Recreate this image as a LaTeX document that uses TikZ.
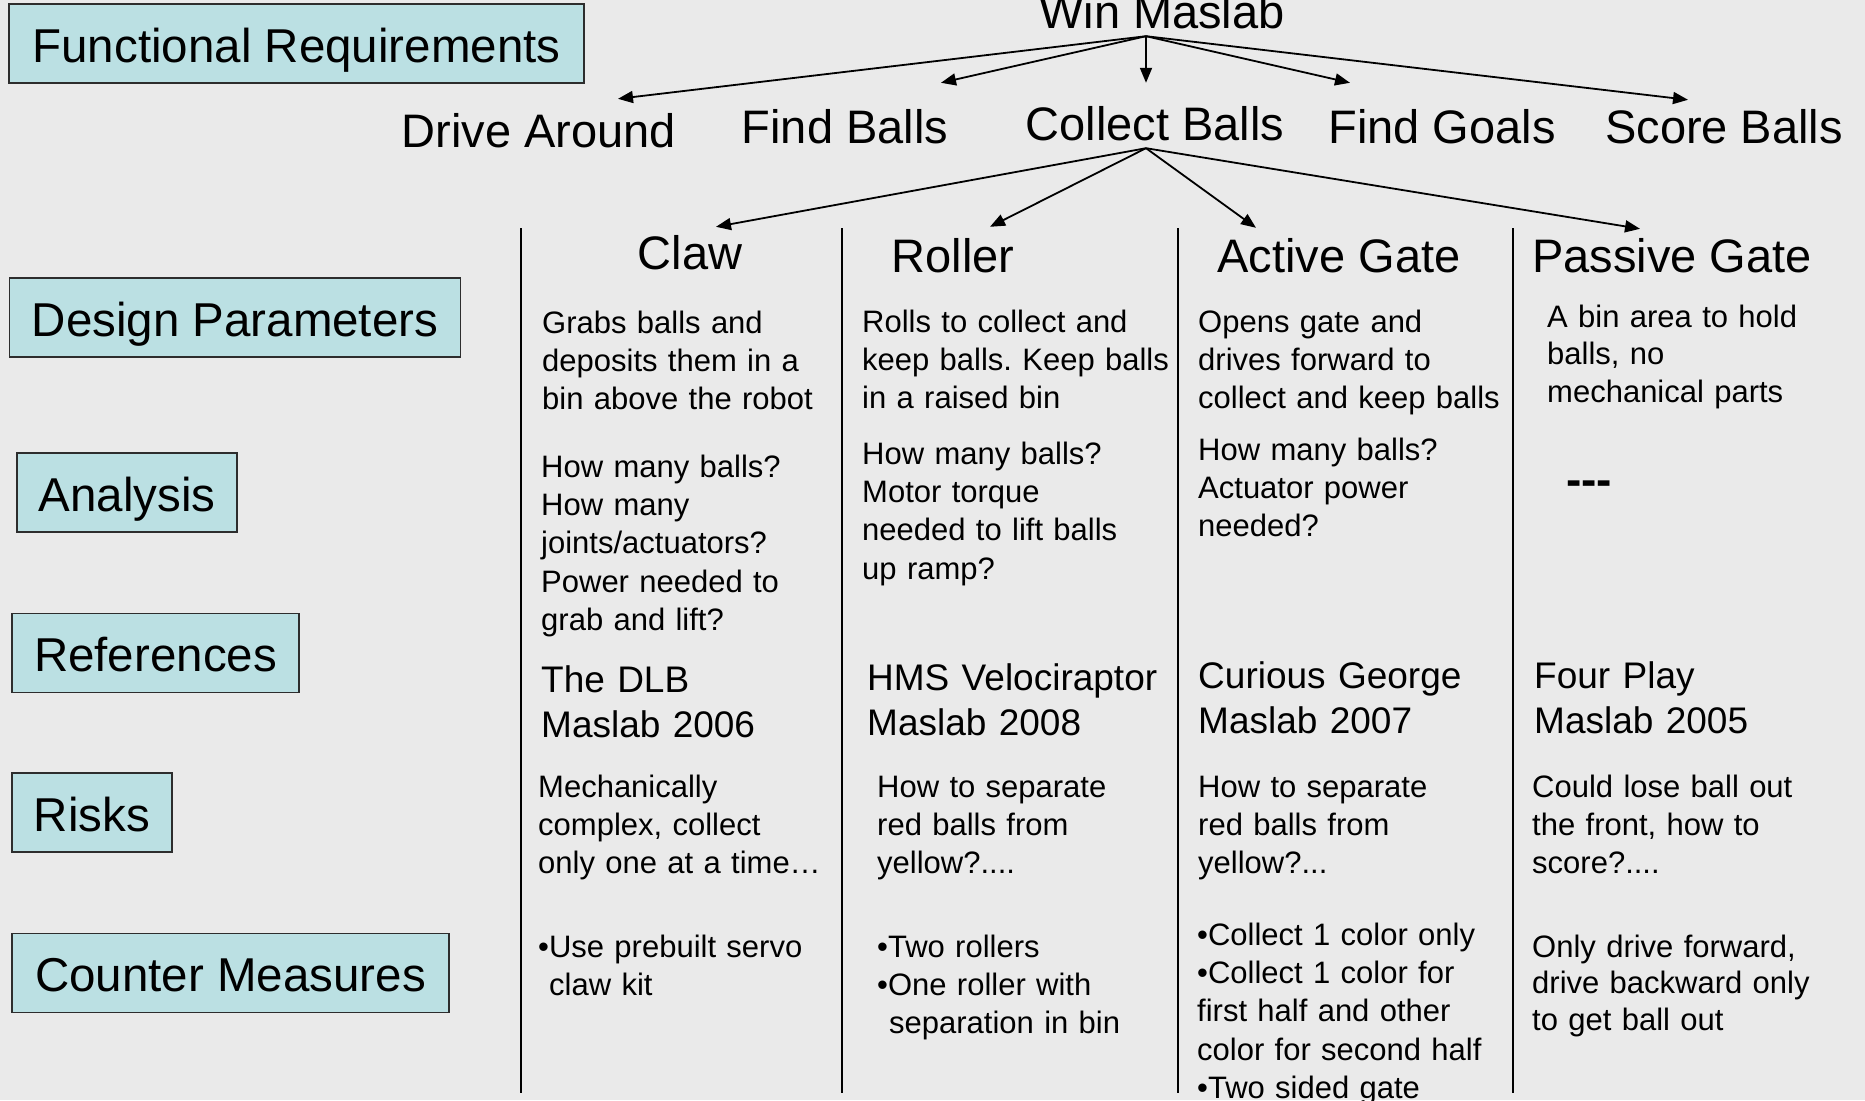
\documentclass[tikz,border=0pt]{standalone}
\usepackage{fontspec}
\setmainfont{Liberation Sans}
\usepackage{xcolor}
\usepackage{tikz}
\usetikzlibrary{arrows.meta, positioning, calc}
\definecolor{latar}{RGB}{234,234,234}
\definecolor{isian}{RGB}{187,224,227}
\definecolor{tepi}{RGB}{45,45,45}
\frenchspacing

\begin{document}
\begin{tikzpicture}[
    x=1pt, y=-1pt,
    kotak/.style={draw=tepi, line width=1.5pt, fill=isian, inner sep=0pt, minimum height=79pt,
                  text height=37pt, text depth=0pt, font=\fontsize{47.5}{56}\selectfont},
    judul/.style={anchor=base, inner sep=0pt, text height=34pt, text depth=0pt,
                  font=\fontsize{47}{56}\selectfont},
    isi/.style={anchor=base west, inner sep=0pt, text width=320pt, align=left,
                font=\fontsize{31}{38.4}\selectfont},
    rujukan/.style={isi, font=\fontsize{37}{45}\selectfont},
    panah/.style={-{Triangle[length=15pt, width=12pt]}, line width=1.8pt},
    garis/.style={line width=2pt}
  ]
    \fill[latar] (0,0) rectangle (1865,1100);
    \useasboundingbox (0,0) rectangle (1865,1100);

    \node[kotak, minimum width=575pt] (fr) at (296.5,43.5) {Functional Requirements};
    \node[kotak, minimum width=451pt] (dp) at (235,317.5) {Design Parameters};
    \node[kotak, minimum width=220pt] (an) at (127,492.5) {Analysis};
    \node[kotak, minimum width=287pt] (ref) at (155.5,653) {References};
    \node[kotak, minimum width=160pt] (risk) at (92,812.5) {Risks};
    \node[kotak, minimum width=437pt] (cm) at (230.5,973) {Counter Measures};

    \node[judul] (win) at (1162,28) {Win Maslab};
    \node[judul] (drive) at (539,147) {Drive Around};
    \node[judul] (findb) at (845,143) {Find Balls};
    \node[judul] (collect) at (1155,140) {Collect Balls};
    \node[judul] (findg) at (1442,143) {Find Goals};
    \node[judul] (score) at (1724,143) {Score Balls};

    \node[judul] (claw) at (690,269) {Claw};
    \node[judul] (roller) at (953,272) {Roller};
    \node[judul] (active) at (1339,272) {Active Gate};
    \node[judul] (passive) at (1672,272) {Passive Gate};

    \coordinate (akar) at ([xshift=-16pt, yshift=-8pt]win.south);
    \coordinate (cabang) at ([xshift=-9pt, yshift=-8pt]collect.south);
    \draw[panah] (akar) -- ([xshift=79pt, yshift=14pt]drive.north);
    \draw[panah] (akar) -- ([xshift=96pt, yshift=26pt]findb.north);
    \draw[panah] (akar) -- ([xshift=-9pt, yshift=23pt]collect.north);
    \draw[panah] (akar) -- ([xshift=-92pt, yshift=26pt]findg.north);
    \draw[panah] (akar) -- ([xshift=-36pt, yshift=9pt]score.north);
    \draw[panah] (cabang) -- ([xshift=26pt, yshift=8pt]claw.north);
    \draw[panah] (cabang) -- ([xshift=37pt, yshift=11pt]roller.north);
    \draw[panah] (cabang) -- ([xshift=-83pt, yshift=10pt]active.north);
    \draw[panah] (cabang) -- ([xshift=-32pt, yshift=9pt]passive.north);

    \foreach \x in {521,842,1178,1513}
      \draw[garis] (\x,228) -- (\x,1093);

    \node[isi] (clawdp) at (542,333) {Grabs balls and\\deposits them in a\\bin above the robot};
    \node[isi] (clawan) at (541,477) {How many balls?\\How many\\joints/actuators?\\Power needed to\\grab and lift?};
    \node[rujukan] (clawref) at (541,692) {The DLB\\Maslab 2006};
    \node[isi] (clawrisk) at (538,797) {Mechanically\\complex, collect\\only one at a time…};
    \node[isi] (clawcm) at (538,957) {•Use prebuilt servo\\\hspace*{11pt}claw kit};

    \node[isi] (rollerdp) at (862,332) {Rolls to collect and\\keep balls. Keep balls\\in a raised bin};
    \node[isi] (rolleran) at (862,464) {How many balls?\\Motor torque\\needed to lift balls\\up ramp?};
    \node[rujukan] (rollerref) at (867,690) {HMS Velociraptor\\Maslab 2008};
    \node[isi] (rollerrisk) at (877,797) {How to separate\\red balls from\\yellow?....};
    \node[isi] (rollercm) at (877,957) {•Two rollers\\•One roller with\\\hspace*{12pt}separation in bin};

    \node[isi] (activedp) at (1198,332) {Opens gate and\\drives forward to\\collect and keep balls};
    \node[isi] (activean) at (1198,460) {How many balls?\\Actuator power\\needed?};
    \node[rujukan] (activeref) at (1198,688) {Curious George\\Maslab 2007};
    \node[isi] (activerisk) at (1198,797) {How to separate\\red balls from\\yellow?...};
    \node[isi] (activecm) at (1197,945) {•Collect 1 color only\\•Collect 1 color for\\first half and other\\color for second half\\•Two sided gate};

    \node[isi, font=\fontsize{31}{37.5}\selectfont] (passivedp) at (1547,327) {A bin area to hold\\balls, no\\mechanical parts};
    \node[anchor=base west, inner sep=0pt, font=\fontsize{46}{54}\selectfont\bfseries] (passivean) at (1566,495) {\mbox{-}\mbox{-}\mbox{-}};
    \node[rujukan] (passiveref) at (1534,688) {Four Play\\Maslab 2005};
    \node[isi] (passiverisk) at (1532,797) {Could lose ball out\\the front, how to\\score?....};
    \node[isi, font=\fontsize{31}{36.5}\selectfont] (passivecm) at (1532,957) {Only drive forward,\\drive backward only\\to get ball out};
  \end{tikzpicture}
\end{document}
